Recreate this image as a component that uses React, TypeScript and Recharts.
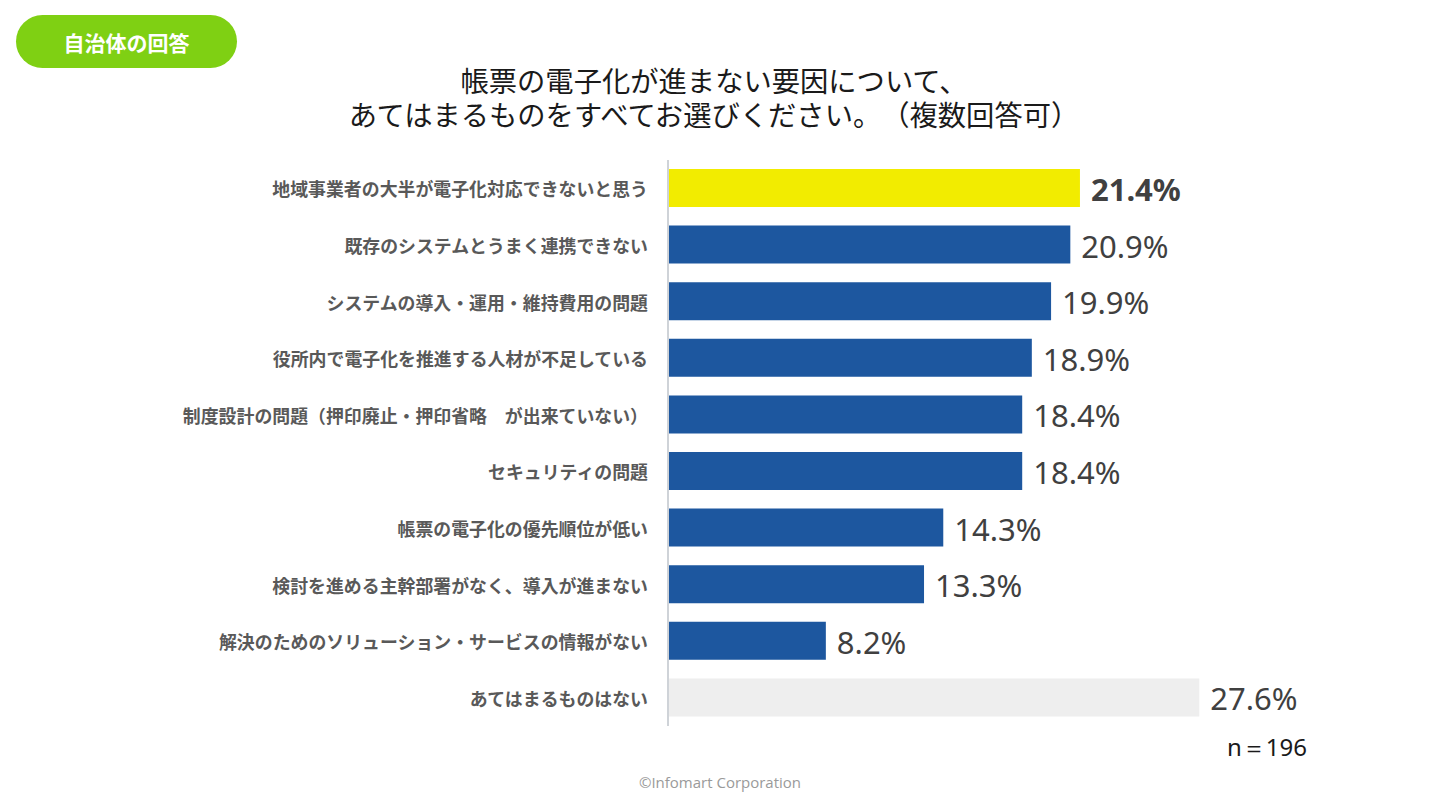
import React from "react";
import { BarChart, Bar, XAxis, YAxis, Cell, LabelList } from "recharts";

// Survey answers (multiple choice), share of respondents in %
const categories: string[] = [
  "地域事業者の大半が電子化対応できないと思う",
  "既存のシステムとうまく連携できない",
  "システムの導入・運用・維持費用の問題",
  "役所内で電子化を推進する人材が不足している",
  "制度設計の問題（押印廃止・押印省略\u3000が出来ていない）",
  "セキュリティの問題",
  "帳票の電子化の優先順位が低い",
  "検討を進める主幹部署がなく、導入が進まない",
  "解決のためのソリューション・サービスの情報がない",
  "あてはまるものはない",
];
const values: number[] = [21.4, 20.9, 19.9, 18.9, 18.4, 18.4, 14.3, 13.3, 8.2, 27.6];

const titleLines: string[] = [
  "帳票の電子化が進まない要因について、",
  "あてはまるものをすべてお選びください。（複数回答可）",
];
const badgeText = "自治体の回答";
const sampleNote = "n＝196";
const footerText = "©Infomart Corporation";

const data = categories.map((name, i) => ({ name, value: values[i] }));

const HIGHLIGHT = "#f2ec00";
const MAIN = "#1d579f";
const NONE = "#eeeeee";
const colorFor = (i: number) =>
  i === 0 ? HIGHLIGHT : i === categories.length - 1 ? NONE : MAIN;

const JP = "'Noto Sans CJK JP', 'Noto Sans', sans-serif";
const fullWidthPunct: any = { textSpacingTrim: "space-all" };

const CategoryTick = (props: any) => {
  const { x, y, payload } = props;
  return (
    <text
      x={x - 12}
      y={y}
      textAnchor="end"
      dominantBaseline="central"
      fontFamily={JP}
      fontWeight={700}
      fontSize={17.9}
      fill="#595959"
      style={fullWidthPunct}
    >
      {payload.value}
    </text>
  );
};

const ValueLabel = (props: any) => {
  const { x, y, width, height, value, index } = props;
  return (
    <text
      x={x + width + 11}
      y={y + height / 2 + 1}
      dominantBaseline="central"
      fontFamily="'Noto Sans', sans-serif"
      fontWeight={index === 0 ? 700 : 400}
      fontSize={31}
      fill="#404040"
    >
      {`${value.toFixed(1)}%`}
    </text>
  );
};

export default function App() {
  return (
    <div
      style={{
        position: "absolute",
        left: 0,
        top: 0,
        width: 1440,
        height: 810,
        background: "#ffffff",
        overflow: "hidden",
        fontFamily: JP,
      }}
    >
      {/* badge */}
      <div
        style={{
          position: "absolute",
          left: 16,
          top: 15,
          width: 221,
          height: 53,
          borderRadius: 27,
          background: "#7fd013",
          color: "#ffffff",
          fontWeight: 700,
          fontSize: 21,
          display: "flex",
          alignItems: "center",
          justifyContent: "center",
        }}
      >
        {badgeText}
      </div>

      {/* title */}
      <div
        style={{
          position: "absolute",
          left: 0,
          top: 63,
          width: 1428,
          textAlign: "center",
          fontSize: 28.3,
          lineHeight: "34px",
          color: "#1a1a1a",
          ...fullWidthPunct,
        }}
      >
        {titleLines.map((t) => (
          <div key={t} style={{ height: 34, overflow: "visible" }}>
            {t}
          </div>
        ))}
      </div>

      <div style={{ position: "absolute", left: 0, top: 160 }}>
        <BarChart
          width={1440}
          height={566}
          data={data}
          layout="vertical"
          margin={{ top: 0, right: 2, bottom: 0, left: 0 }}
          barSize={38}
        >
          <XAxis type="number" domain={[0, 40]} hide />
          <YAxis
            type="category"
            dataKey="name"
            width={668}
            tick={<CategoryTick />}
            tickLine={false}
            axisLine={{ stroke: "#cfd3d8", strokeWidth: 2 }}
            interval={0}
          />
          <Bar dataKey="value" isAnimationActive={false}>
            {data.map((d, i) => (
              <Cell key={d.name} fill={colorFor(i)} />
            ))}
            <LabelList dataKey="value" content={<ValueLabel />} />
          </Bar>
        </BarChart>
      </div>

      <div
        style={{
          position: "absolute",
          left: 1227,
          top: 730,
          fontFamily: "'Noto Sans', sans-serif",
          fontSize: 24,
          color: "#1a1a1a",
        }}
      >
        {sampleNote}
      </div>

      <div
        style={{
          position: "absolute",
          left: 0,
          top: 772,
          width: 1440,
          textAlign: "center",
          fontFamily: "'Open Sans', 'Noto Sans', sans-serif",
          fontSize: 15,
          color: "#9a9a9a",
        }}
      >
        {footerText}
      </div>
    </div>
  );
}
